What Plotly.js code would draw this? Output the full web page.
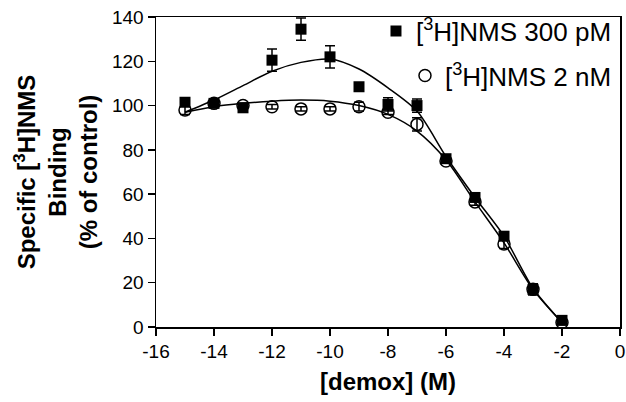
<!DOCTYPE html>
<html><head><meta charset="utf-8">
<script src="https://cdn.plot.ly/plotly-3.0.1.min.js"></script>
<style>body{margin:0;background:#fff}#chart{width:626px;height:402px}</style>
</head><body><div id="chart"></div>
<script>
// log [demox] (M)
const logConc = [-15,-14,-13,-12,-11,-10,-9,-8,-7,-6,-5,-4,-3,-2];
// [3H]NMS 300 pM (filled squares)
const nms300 = [101.5, 101, 99, 120.5, 134.5, 122, 108.5, 100.5, 100, 76, 58.5, 41, 17, 3];
const nms300Err = [1, 1, 1, 5, 5, 5, 1, 3, 3, 1.5, 1, 1.5, 2.5, 1];
// [3H]NMS 2 nM (open circles)
const nms2 = [98, 101, 100, 99.5, 98.5, 98.5, 99.5, 97, 91.5, 75, 56.5, 37.5, 17, 2];
const nms2Err = [2, 1, 1, 1, 1, 1, 2, 1, 3, 1, 1.5, 2, 1, 1];
// fitted curves
const fitX = [-15,-14,-13,-12,-11,-10,-9,-8,-7,-6,-5,-4,-3,-2];
const fit300 = [97, 102.5, 109, 115.5, 119.5, 121, 116.5, 108, 97.5, 77, 58.5, 41, 17.5, 2];
const fit2 = [97, 99.5, 101, 102, 102.5, 102, 100, 96, 88.5, 75.5, 56.5, 38, 17, 2];
const xTicks = [-16,-14,-12,-10,-8,-6,-4,-2,0];
const yTicks = [0,20,40,60,80,100,120,140];

const black = '#000';
const FONT = 'Liberation Sans, Arial, sans-serif';
const traces = [
  {x: fitX, y: fit300, mode: 'lines', line: {color: black, width: 1.5, shape: 'spline', smoothing: 0.8}, showlegend: false, hoverinfo: 'skip'},
  {x: fitX, y: fit2, mode: 'lines', line: {color: black, width: 1.5, shape: 'spline', smoothing: 0.8}, showlegend: false, hoverinfo: 'skip'},
  {x: logConc, y: nms300, name: '[<sup>3</sup>H]NMS 300 pM', mode: 'markers', legend: 'legend',
   marker: {symbol: 'square', size: 11, color: black},
   error_y: {type: 'data', array: nms300Err, visible: true, color: black, thickness: 1.5, width: 5}},
  {x: logConc, y: nms2, name: '[<sup>3</sup>H]NMS 2 nM', mode: 'markers', legend: 'legend2',
   marker: {symbol: 'circle-open', size: 12, color: black, line: {width: 1.5, color: black}},
   error_y: {type: 'data', array: nms2Err, visible: true, color: black, thickness: 1.5, width: 5}}
];

const tickFont = {family: FONT, size: 19, color: black};
const layout = {
  width: 626, height: 402,
  margin: {l: 156, r: 6, t: 17, b: 75, autoexpand: false},
  paper_bgcolor: '#fff', plot_bgcolor: '#fff',
  showlegend: true,
  xaxis: {
    range: [-16, 0], tickvals: xTicks, ticktext: xTicks.map(String),
    ticks: 'outside', ticklen: 7, tickwidth: 1.5, tickcolor: black,
    showline: true, linewidth: 1.5, linecolor: black, mirror: true,
    showgrid: false, zeroline: false, tickfont: tickFont,
    title: {text: '<b>[demox] (M)</b>', font: {family: FONT, size: 24, color: black}, standoff: 12}
  },
  yaxis: {
    range: [0, 140], tickvals: yTicks, ticktext: yTicks.map(String),
    ticks: 'outside', ticklen: 7, tickwidth: 1.5, tickcolor: black,
    showline: true, linewidth: 1.5, linecolor: black, mirror: true,
    showgrid: false, zeroline: false, tickfont: tickFont,
    title: {text: '<b>Specific [<sup>3</sup>H]NMS<br>Binding<br>(% of control)</b>', font: {family: FONT, size: 24, color: black}, standoff: 7}
  },
  legend: {x: 0.9935, xanchor: 'right', y: 1.03, yanchor: 'top', bgcolor: 'rgba(0,0,0,0)',
    font: {family: FONT, size: 26, color: black}, itemwidth: 30},
  legend2: {x: 0.9935, xanchor: 'right', y: 0.887, yanchor: 'top', bgcolor: 'rgba(0,0,0,0)',
    font: {family: FONT, size: 26, color: black}, itemwidth: 30}
};
traces.forEach(t => { t.cliponaxis = false; });
Plotly.newPlot('chart', traces, layout, {displayModeBar: false, staticPlot: true});
</script></body></html>
